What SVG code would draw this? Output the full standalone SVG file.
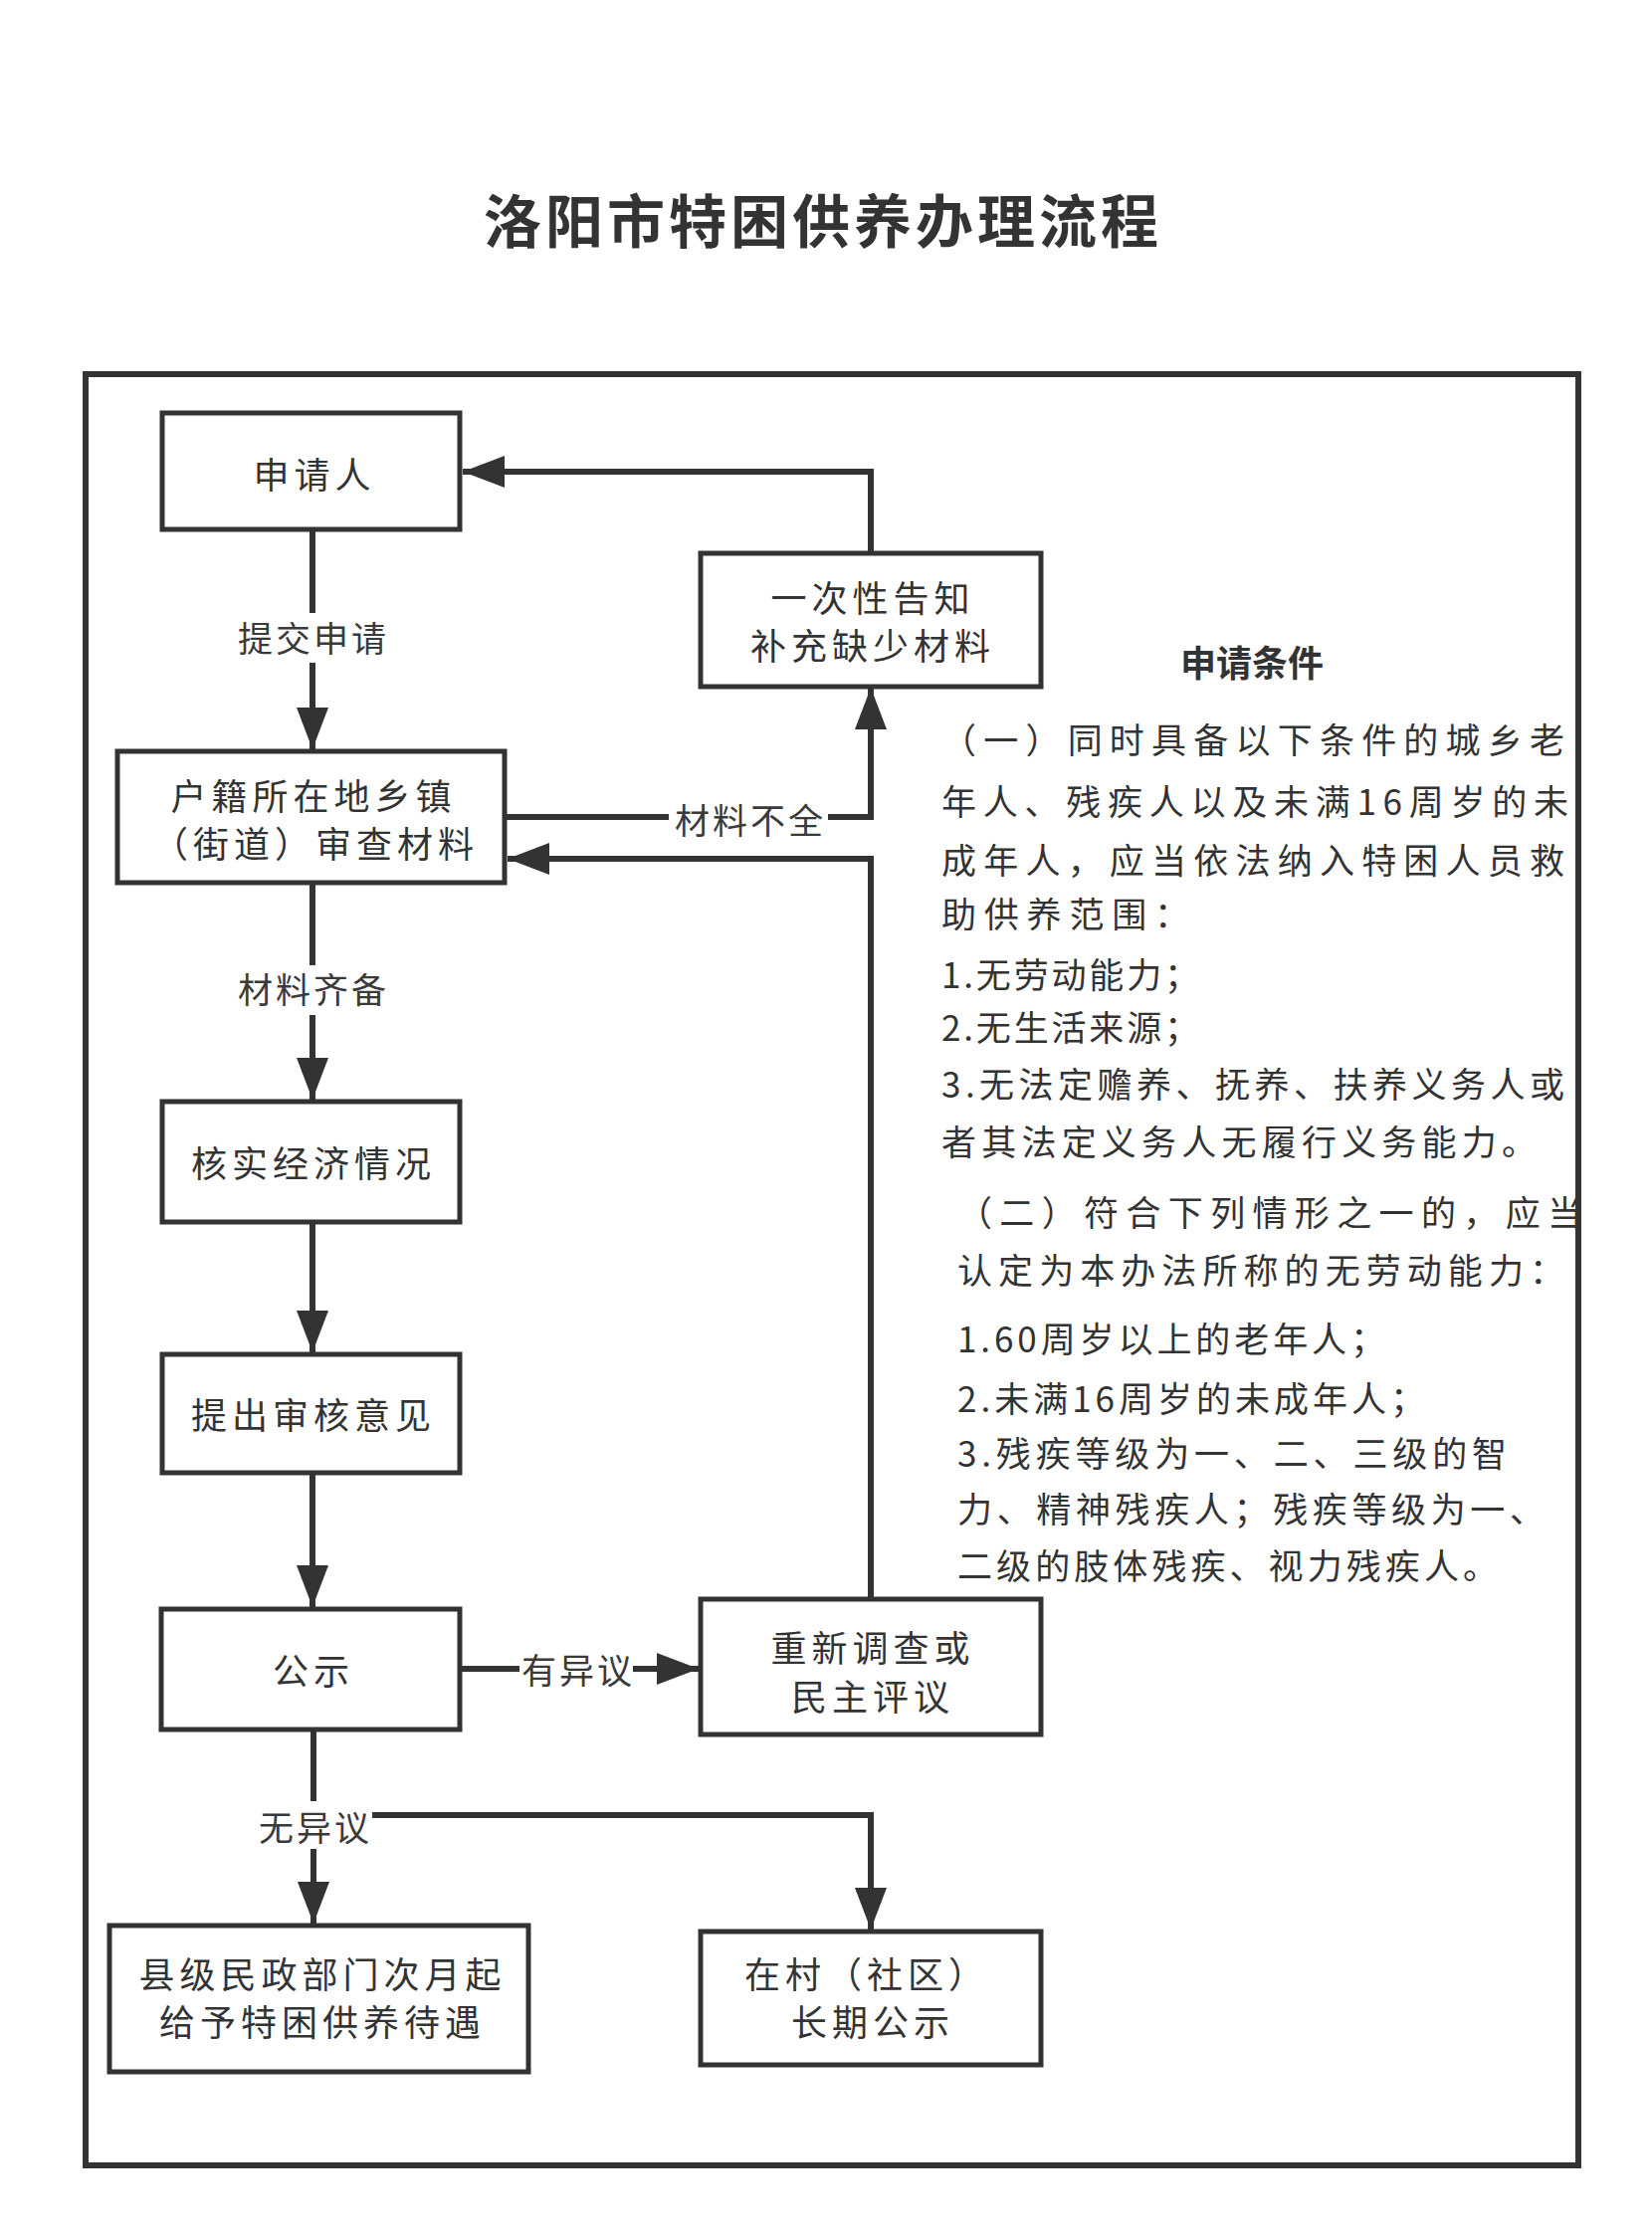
<svg xmlns="http://www.w3.org/2000/svg" width="1660" height="2251" viewBox="0 0 1660 2251">
<style>
text{font-family:"Noto Sans CJK SC","Noto Sans CJK TC",sans-serif;fill:#333333}
.title{font-size:58px;font-weight:bold;letter-spacing:4px;text-anchor:middle}
.head{font-size:36px;font-weight:bold;text-anchor:middle}
.node rect{fill:#ffffff;stroke:#333333;stroke-width:5}
.node text{font-size:36px;letter-spacing:5px;text-anchor:middle}
.edge{fill:none;stroke:#333333;stroke-width:6}
.lbl rect{fill:#ffffff}
.lbl text{font-size:35px;letter-spacing:3px;text-anchor:middle;fill:#3a3a3a}
.para{font-size:35px}
</style>
<defs>
<marker id="arr" markerUnits="userSpaceOnUse" markerWidth="42" markerHeight="32" refX="42" refY="16" orient="auto">
<path d="M0,0 L42,16 L0,32 z" fill="#333333"/>
</marker>
<clipPath id="panel"><rect x="89" y="379" width="1494" height="1794"/></clipPath>
</defs>
<rect width="1660" height="2251" fill="#ffffff"/>
<text class="title" x="827" y="244">洛阳市特困供养办理流程</text>
<rect id="frame" x="86" y="376" width="1500" height="1800" fill="none" stroke="#333333" stroke-width="6"/>

<g id="connectors">
<path class="edge" d="M314,532 V753" marker-end="url(#arr)"/>
<path class="edge" d="M507,821 H875 V691" marker-end="url(#arr)"/>
<path class="edge" d="M875,556 V474 H465" marker-end="url(#arr)"/>
<path class="edge" d="M875,1607 V863 H510" marker-end="url(#arr)"/>
<path class="edge" d="M314,887 V1105" marker-end="url(#arr)"/>
<path class="edge" d="M314,1228 V1359" marker-end="url(#arr)"/>
<path class="edge" d="M314,1480 V1615" marker-end="url(#arr)"/>
<path class="edge" d="M462,1677 H702" marker-end="url(#arr)"/>
<path class="edge" d="M315,1738 V1933" marker-end="url(#arr)"/>
<path class="edge" d="M315,1824 H875 V1939" marker-end="url(#arr)"/>
<g class="lbl" id="lbl-submit"><rect x="236" y="616" width="156" height="50"/><text x="315" y="655">提交申请</text></g>
<g class="lbl" id="lbl-incomplete"><rect x="672" y="800" width="160" height="50"/><text x="754" y="838">材料不全</text></g>
<g class="lbl" id="lbl-complete"><rect x="236" y="970" width="156" height="50"/><text x="315" y="1008">材料齐备</text></g>
<g class="lbl" id="lbl-objection"><rect x="522" y="1655" width="114" height="50"/><text x="581" y="1692">有异议</text></g>
<g class="lbl" id="lbl-noobjection"><rect x="256" y="1810" width="118" height="48"/><text x="317" y="1850">无异议</text></g>
</g>

<g id="n-applicant" class="node"><rect x="163" y="415" width="299" height="117"/><text x="316" y="491">申请人</text></g>
<g id="n-review" class="node"><rect x="118" y="755" width="389" height="132"/><text x="315" y="814">户籍所在地乡镇</text><text x="317" y="862">（街道）审查材料</text></g>
<g id="n-notify" class="node"><rect x="704" y="556" width="342" height="134"/><text x="877" y="615">一次性告知</text><text x="877" y="663">补充缺少材料</text></g>
<g id="n-verify" class="node"><rect x="163" y="1107" width="299" height="121"/><text x="315" y="1183">核实经济情况</text></g>
<g id="n-opinion" class="node"><rect x="163" y="1361" width="299" height="119"/><text x="315" y="1436">提出审核意见</text></g>
<g id="n-publicity" class="node"><rect x="162" y="1617" width="300" height="121"/><text x="315" y="1693">公示</text></g>
<g id="n-reinvestigate" class="node"><rect x="704" y="1607" width="342" height="136"/><text x="877" y="1670">重新调查或</text><text x="877" y="1719">民主评议</text></g>
<g id="n-grant" class="node"><rect x="110" y="1935" width="421" height="147"/><text x="324" y="1998">县级民政部门次月起</text><text x="324" y="2046">给予特困供养待遇</text></g>
<g id="n-longterm" class="node"><rect x="704" y="1941" width="342" height="134"/><text x="871" y="1998">在村（社区）</text><text x="877" y="2046">长期公示</text></g>

<g id="conditions" clip-path="url(#panel)">
<text class="head" x="1258" y="680">申请条件</text>
<text class="para" x="946" y="757" textLength="626" lengthAdjust="spacing">（一）同时具备以下条件的城乡老</text>
<text class="para" x="946" y="819" textLength="630" lengthAdjust="spacing">年人、残疾人以及未满16周岁的未</text>
<text class="para" x="946" y="878" textLength="626" lengthAdjust="spacing">成年人，应当依法纳入特困人员救</text>
<text class="para" x="946" y="932" textLength="249" lengthAdjust="spacing">助供养范围：</text>
<text class="para" x="946" y="993" textLength="259" lengthAdjust="spacing">1.无劳动能力；</text>
<text class="para" x="946" y="1046" textLength="259" lengthAdjust="spacing">2.无生活来源；</text>
<text class="para" x="946" y="1103" textLength="626" lengthAdjust="spacing">3.无法定赡养、抚养、扶养义务人或</text>
<text class="para" x="946" y="1161" textLength="598" lengthAdjust="spacing">者其法定义务人无履行义务能力。</text>
<text class="para" x="962" y="1232" textLength="628" lengthAdjust="spacing">（二）符合下列情形之一的，应当</text>
<text class="para" x="962" y="1290" textLength="610" lengthAdjust="spacing">认定为本办法所称的无劳动能力：</text>
<text class="para" x="962" y="1359" textLength="430" lengthAdjust="spacing">1.60周岁以上的老年人；</text>
<text class="para" x="962" y="1419" textLength="470" lengthAdjust="spacing">2.未满16周岁的未成年人；</text>
<text class="para" x="962" y="1474" textLength="552" lengthAdjust="spacing">3.残疾等级为一、二、三级的智</text>
<text class="para" x="962" y="1530" textLength="590" lengthAdjust="spacing">力、精神残疾人；残疾等级为一、</text>
<text class="para" x="962" y="1587" textLength="543" lengthAdjust="spacing">二级的肢体残疾、视力残疾人。</text>
</g>
</svg>
